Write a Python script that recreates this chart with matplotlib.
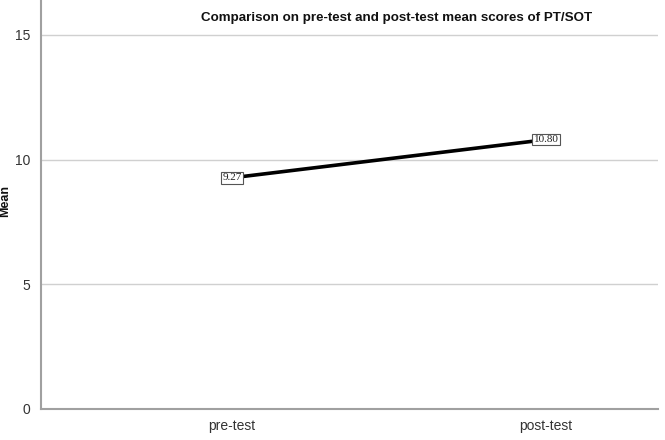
import matplotlib
matplotlib.use('Agg')
import matplotlib.pyplot as plt

# data
categories = ['pre-test', 'post-test']
means = [9.27, 10.80]
y_ticks = [0, 5, 10, 15]
title = 'Comparison on pre-test and post-test mean scores of PT/SOT'

plt.rcParams['font.family'] = ['Liberation Sans', 'DejaVu Sans']

fig = plt.figure(figsize=(6.65, 4.4), dpi=100)
ax = fig.add_axes([0.0617, 0.0705, 0.9278, 0.9295])

x = list(range(len(categories)))
ax.plot(x, means, color='black', linewidth=2.6, zorder=3, solid_capstyle='butt')

# value labels in small boxes
for xi, v in zip(x, means):
    ax.text(xi, v, f'{v:.2f}', ha='center', va='center', fontsize=8,
            family='Liberation Serif', color='#222222', zorder=4,
            bbox=dict(boxstyle='square,pad=0.12', facecolor='white',
                      edgecolor='#555555', linewidth=0.8))

ax.set_xlim(-0.608, 1.357)
ax.set_ylim(0, 16.4)
ax.set_xticks(x)
ax.set_xticklabels(categories, fontsize=10, color='#333333')
ax.set_yticks(y_ticks)
ax.set_yticklabels([str(t) for t in y_ticks], fontsize=10, color='#333333')
ax.tick_params(length=0, pad=8)
ax.tick_params(axis='x', pad=7)

ax.grid(axis='y', color='#d0d0d0', linewidth=1.0)
ax.set_axisbelow(True)
for s in ['top', 'right']:
    ax.spines[s].set_visible(False)
for s in ['left', 'bottom']:
    ax.spines[s].set_color('#a0a0a0')
    ax.spines[s].set_linewidth(1.5)

# y label sits at the very left edge, partly cut like the original
fig.text(0.007, 0.543, 'Mean', rotation=90, ha='center', va='center',
         fontsize=9, fontweight='bold', color='#111111')

ax.text(0.577, 0.955, title, transform=ax.transAxes, ha='center', va='center',
        fontsize=9.6, fontweight='bold', color='#111111')

fig.savefig('out.png', dpi=100)
